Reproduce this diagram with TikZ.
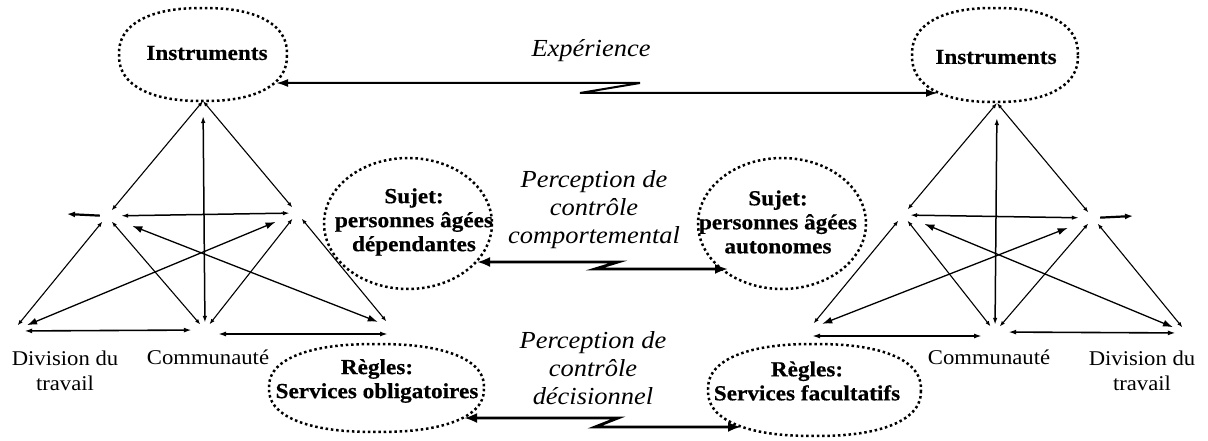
\documentclass[tikz,border=0pt]{standalone}
\usepackage{fontspec}
\setmainfont{Liberation Serif}[FakeStretch=1.08, BoldFeatures={FakeBold=0.5}]
\usetikzlibrary{arrows.meta}

% superellipse: centre x, centre y, radius x, radius y, (2/n - 1)
\newcommand\supell[5]{%
  \draw[dotring] plot[domain=0.5:360.5,samples=121,variable=\t]
    ({#1+#3*cos(\t)*pow(abs(cos(\t)),#5)},{#2+#4*sin(\t)*pow(abs(sin(\t)),#5)}) -- cycle;}

% one activity triangle system (drawn in left-hand coordinates)
\newcommand\drawsys[1]{%
  \coordinate (#1A) at (203,101);
  \node[vtx] (#1L) at (107,216) {};
  \node[vtx] (#1R) at (297,213) {};
  \node[vtx] (#1D) at (13,331) {};
  \node[vtx] (#1C) at (205,330) {};
  \node[vtx] (#1B) at (391,327) {};
  \coordinate (#1O) at (67,214);
  \draw[tri] (#1A) -- (#1L);
  \draw[tri] (#1A) -- (#1R);
  \draw[vert] (#1A) -- (#1C);
  \draw[hor] (#1L) -- (#1R);
  \draw[outa] (#1L) -- (#1O);
  \draw[tri] (#1L) -- (#1D);
  \draw[tri] (#1L) -- (#1C);
  \draw[tri] (#1R) -- (#1C);
  \draw[tri] (#1R) -- (#1B);
  \draw[cross, shorten <=20pt, shorten >=7pt] (#1L) -- (#1B);
  \draw[cross, shorten <=16pt, shorten >=8pt] (#1R) -- (#1D);
  \draw[base, shorten <=4pt, shorten >=6pt] (#1D) -- (#1C);
  \draw[base, shorten <=13pt, shorten >=3pt] ([yshift=-4pt]#1C.center) -- ([yshift=-7pt]#1B.center);
}

\begin{document}
\begin{tikzpicture}[x=1pt,y=-1pt,
  dotring/.style={line width=2.5pt, dash pattern=on 2.5pt off 2.8pt},
  vtx/.style={circle, inner sep=0pt, minimum size=14pt},
  tri/.style={line width=1.1pt, <->, >={Latex[length=5.5pt,width=4pt]}},
  vert/.style={line width=1.5pt, <->, >={Latex[length=7pt,width=4.5pt]}, shorten <=15pt},
  hor/.style={line width=1.5pt, <->, >={Latex[length=7pt,width=4.5pt]}, shorten <=7pt},
  outa/.style={line width=2.2pt, ->, >={Latex[length=8pt,width=6pt]}},
  cross/.style={line width=1.3pt, <->, >={Latex[length=10pt,width=7pt]}},
  base/.style={line width=1.6pt, <->, >={Latex[length=8pt,width=5pt]}},
  zexp/.style={line width=2pt, <->, >={Latex[length=12pt,width=8pt]}},
  zbig/.style={line width=2.8pt, <->, >={Latex[length=13pt,width=10pt]}},
  btxt/.style={font=\fontsize{21.5}{24}\selectfont\bfseries, align=center, inner sep=0pt},
  itxt/.style={font=\fontsize{24.5}{28}\selectfont\itshape, align=center, inner sep=0pt},
  rtxt/.style={font=\fontsize{21}{25}\selectfont, align=center, inner sep=0pt}]

\fill[white] (0,0) rectangle (1208,441);
\useasboundingbox (0,0) rectangle (1208,441);

% dotted ellipses
\supell{203}{54.5}{84}{46.5}{-0.15}
\supell{995}{55}{83}{47}{-0.15}
\supell{408}{223.5}{84}{65.5}{0}
\supell{782}{223.5}{84}{65.5}{0}
\supell{376.5}{388}{107.5}{44}{-0.15}
\supell{814.5}{390}{106.5}{46}{-0.15}

% texts
\node[btxt] (instL) at (207,53) {Instruments};
\node[btxt] (instR) at (996,57) {Instruments};
\node[btxt] (sujL) at (414,222) {Sujet:\\personnes âgées\\dépendantes};
\node[btxt] (sujR) at (778,222) {Sujet:\\personnes âgées\\autonomes};
\node[btxt] (regL) at (377,381) {Règles:\\Services obligatoires};
\node[btxt] (regR) at (807,381) {Règles:\\Services facultatifs};
\node[itxt] (exp) at (591,51) {Expérience};
\node[itxt] (pcc) at (594,210) {Perception de\\contrôle\\comportemental};
\node[itxt] (pcd) at (593,368) {Perception de\\contrôle\\décisionnel};
\node[rtxt] (divL) at (65,371) {Division du\\travail};
\node[rtxt] (comL) at (208,357) {Communauté};
\node[rtxt] (comR) at (989,357) {Communauté};
\node[rtxt] (divR) at (1142,371) {Division du\\travail};

% triangle systems
\drawsys{l}
\begin{scope}[shift={(1200,2)}, xscale=-1]
\drawsys{r}
\end{scope}

% zig-zag connectors
\coordinate (eL) at (276,83);
\coordinate (e1) at (640,83);
\coordinate (e2) at (580,93);
\coordinate (eR) at (938,93);
\draw[zexp] (eL) -- (e1) -- (e2) -- (eR);

\coordinate (bL) at (477,262);
\coordinate (b1) at (618,262);
\coordinate (b2) at (595,269);
\coordinate (bR) at (728,269);
\draw[zbig] (bL) -- (b1) -- (b2) -- (bR);

\coordinate (dL) at (464,418);
\coordinate (d1) at (618,418);
\coordinate (d2) at (595,427);
\coordinate (dR) at (741,427);
\draw[zbig] (dL) -- (d1) -- (d2) -- (dR);

\end{tikzpicture}
\end{document}
